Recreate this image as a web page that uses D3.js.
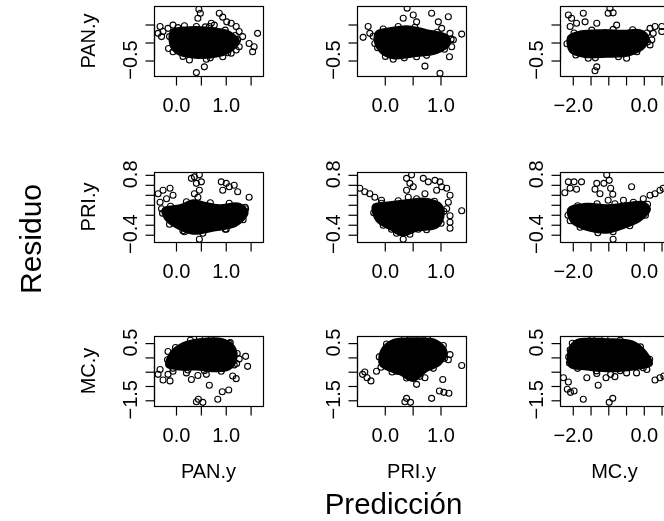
<!DOCTYPE html>
<html><head><meta charset="utf-8">
<script src="https://cdn.jsdelivr.net/npm/d3@7"></script>
<style>
body{margin:0;background:#fff}
svg{display:block;filter:blur(0.35px)}
text{font-family:"Liberation Sans",Arial,sans-serif;fill:#000}
</style>
</head><body>
<svg id="chart" width="664" height="521"></svg>
<script>
// ---------------- data ----------------
const varNames = ["PAN.y", "PRI.y", "MC.y"];   // rows: residual of; cols: prediction of
const yTitle = "Residuo";
const xTitle = "Predicción";

// axis limits (prediction per column, residual per row)
const xLimits = [[-0.432, 1.759], [-0.490, 1.467], [-2.346, 0.724]];
const yLimits = [[-0.944, 1.0], [-0.556, 0.847], [-1.717, 0.731]];

const xTicks = [[0, 0.5, 1, 1.5], [0, 0.5, 1], [-2, -1.5, -1, -0.5, 0, 0.5]];
const xTickLabels = [["0.0", "", "1.0", ""], ["0.0", "", "1.0"], ["\u22122.0", "", "", "", "0.0", ""]];
const yTicks = [[-0.5, 0, 0.5], [-0.4, -0.2, 0, 0.2, 0.4, 0.6, 0.8], [-1.5, -1, -0.5, 0, 0.5]];
const yTickLabels = [["\u22120.5", "", ""], ["\u22120.4", "", "", "", "", "", "0.8"], ["\u22121.5", "", "", "", "0.5"]];

// dense cores (overlapping points) and individual points, [prediction, residual]
const corePAN_PAN = [[-0.08,0.33],[0.28,0.41],[0.75,0.38],[1.08,0.29],[1.28,0.01],[1.15,-0.22],[0.88,-0.39],[0.35,-0.43],[0.02,-0.31],[-0.11,-0.04]];
const ptsPAN_PAN = [[0.47,0.91],[0.50,0.80],[0.45,0.66],[0.88,0.80],[0.95,0.69],[1.03,0.56],[1.12,0.52],[1.22,0.43],[1.28,0.29],[1.35,0.15],[1.25,0.06],[0.72,0.52],[0.78,0.47],[0.68,0.43],[1.48,-0.04],[1.58,-0.13],[1.55,-0.27],[1.65,0.24],[0.58,-0.69],[0.42,-0.85],[-0.31,0.43],[-0.25,0.29],[-0.35,0.24],[-0.15,0.38],[-0.05,0.47],[-0.28,0.15],[-0.05,-0.27],[0.28,-0.5],[0.62,-0.48],[0.95,-0.41],[1.12,-0.31],[1.22,-0.22],[1.28,-0.13],
  [0.05,0.40],[0.18,0.45],[0.42,0.43],[0.60,0.42],[1.0,0.33],[1.20,0.18],[1.05,-0.30],[0.70,-0.44],[0.15,-0.40],[-0.12,0.15],[-0.14,-0.18]];

const corePAN_PRI = [[-0.14,0.29],[0.10,0.38],[0.40,0.44],[0.76,0.33],[1.12,0.19],[1.18,-0.04],[0.94,-0.31],[0.58,-0.39],[0.16,-0.45],[-0.05,-0.31],[-0.17,0.01]];
const ptsPAN_PRI = [[0.41,0.94],[0.52,0.75],[0.34,0.66],[0.58,0.56],[0.85,0.80],[0.97,0.56],[1.15,0.70],[1.03,0.38],[1.18,0.24],[1.39,0.22],[1.17,-0.41],[0.73,-0.67],[1.0,-0.87],[-0.38,0.13],[-0.29,0.43],[-0.26,0.24],[-0.17,-0.04],[0.16,-0.48],[0.58,-0.41],[1.24,0.06],[1.21,-0.13],
  [-0.02,0.36],[0.25,0.43],[0.55,0.41],[0.95,0.27],[1.20,0.08],[1.08,-0.20],[0.76,-0.37],[0.36,-0.44],[0.02,-0.40],[-0.20,0.16],[-0.12,-0.16]];

const corePAN_MC = [[-2.11,0.15],[-1.78,0.29],[-1.13,0.33],[-0.56,0.31],[-0.09,0.33],[0.14,0.15],[0.05,-0.13],[-0.37,-0.36],[-1.03,-0.41],[-1.69,-0.41],[-2.06,-0.27]];
const ptsPAN_MC = [[-2.11,0.75],[-2.02,0.66],[-1.69,0.80],[-2.06,0.43],[-1.88,0.52],[-1.64,0.56],[-1.31,0.52],[-0.94,0.94],[-0.85,0.81],[-0.99,0.80],[-0.75,0.47],[-1.31,-0.69],[-1.36,-0.80],[-0.47,-0.45],[0.19,0.38],[0.33,0.43],[0.52,0.43],[0.28,0.24],[0.52,0.29],[0.24,0.06],[0.19,-0.08],[-1.55,-0.45],
  [-1.95,0.25],[-1.45,0.33],[-0.85,0.35],[-0.30,0.34],[0.10,0.25],[0.12,0.0],[-0.18,-0.27],[-0.70,-0.41],[-1.35,-0.44],[-1.90,-0.36],[-2.15,-0.05]];

const corePRI_PAN = [[-0.25,0.11],[0.09,0.18],[0.35,0.28],[0.55,0.24],[0.88,0.18],[1.28,0.21],[1.45,0.04],[1.22,-0.23],[0.75,-0.33],[0.35,-0.39],[0.02,-0.27],[-0.21,-0.09]];
const ptsPRI_PAN = [[0.38,0.75],[0.32,0.72],[0.48,0.79],[0.42,0.62],[0.48,0.48],[0.38,0.41],[0.45,0.34],[0.52,0.65],[0.92,0.65],[1.02,0.62],[1.08,0.55],[1.18,0.58],[1.25,0.45],[0.95,0.48],[1.48,0.34],[-0.35,0.41],[-0.25,0.48],[-0.11,0.52],[-0.31,0.24],[-0.18,0.31],[-0.05,0.38],[-0.28,0.11],[0.48,-0.5],[0.15,-0.33],[1.02,-0.30],[1.41,0.11],
  [-0.10,0.16],[0.22,0.25],[0.70,0.23],[1.08,0.22],[1.40,0.14],[1.36,-0.11],[1.00,-0.30],[0.55,-0.38],[0.18,-0.35],[-0.12,-0.20],[-0.26,0.02]];

const corePRI_PRI = [[-0.20,0.18],[0.10,0.24],[0.40,0.28],[0.76,0.31],[1.03,0.18],[1.06,-0.06],[0.94,-0.27],[0.58,-0.33],[0.34,-0.43],[0.10,-0.30],[-0.14,-0.13]];
const ptsPRI_PRI = [[-0.44,0.52],[-0.35,0.45],[-0.26,0.41],[-0.17,0.34],[-0.05,0.28],[0.40,0.72],[0.49,0.79],[0.46,0.62],[0.40,0.48],[0.52,0.55],[0.43,0.34],[0.70,0.72],[0.79,0.65],[0.91,0.68],[1.0,0.65],[1.03,0.55],[1.12,0.52],[1.18,0.38],[1.15,0.24],[1.12,0.11],[1.18,-0.03],[1.18,-0.16],[1.18,-0.28],[1.39,0.07],[0.34,-0.50],[0.73,0.41],[0.94,0.48],[0.13,-0.30],[0.61,-0.30],
  [-0.05,0.22],[0.25,0.27],[0.58,0.31],[0.90,0.26],[1.07,0.06],[1.02,-0.18],[0.76,-0.31],[0.46,-0.40],[0.22,-0.38],[-0.02,-0.22],[-0.19,0.03]];

const corePRI_MC = [[-2.11,0.11],[-1.59,0.21],[-1.03,0.18],[-0.56,0.21],[0.0,0.24],[0.19,0.11],[-0.09,-0.13],[-0.66,-0.30],[-1.03,-0.37],[-1.50,-0.33],[-2.02,-0.16]];
const ptsPRI_MC = [[-2.11,0.65],[-1.95,0.65],[-1.74,0.65],[-2.06,0.52],[-2.21,0.43],[-1.88,0.50],[-1.03,0.79],[-0.96,0.68],[-1.11,0.62],[-0.92,0.52],[-0.86,0.40],[-0.99,0.28],[-1.31,0.62],[-1.36,0.50],[-1.22,0.41],[-0.33,0.55],[0.0,0.31],[0.19,0.38],[0.33,0.41],[0.47,0.48],[0.56,0.52],[-0.85,-0.50],[-2.06,-0.13],[-0.09,-0.03],[-0.56,0.28],
  [-1.85,0.17],[-1.30,0.21],[-0.80,0.21],[-0.28,0.24],[0.12,0.20],[0.06,-0.02],[-0.38,-0.23],[-0.85,-0.35],[-1.28,-0.37],[-1.78,-0.26],[-2.12,-0.02]];

const coreMC_PAN = [[-0.18,-0.33],[-0.11,0.13],[0.15,0.48],[0.48,0.62],[0.95,0.62],[1.18,0.36],[1.22,-0.10],[1.08,-0.44],[0.75,-0.50],[0.42,-0.44],[0.09,-0.44]];
const ptsMC_PAN = [[-0.35,-0.61],[-0.25,-0.81],[-0.11,-0.84],[-0.31,-0.44],[-0.15,-0.61],[-0.05,-0.50],[0.22,-0.56],[0.32,-0.79],[0.45,-0.65],[0.62,-0.61],[0.68,-0.99],[0.85,-1.48],[0.94,-1.22],[1.07,-1.16],[1.22,-0.76],[1.15,-0.67],[0.46,-1.48],[0.55,-1.59],[0.42,-1.57],[1.28,-0.07],[1.41,0.02],[1.45,-0.33],[1.23,-0.23],[0.48,0.69],[1.08,0.48],[-0.15,0.19],
  [-0.16,-0.10],[0.0,0.33],[0.30,0.58],[0.72,0.65],[1.10,0.50],[1.24,0.12],[1.18,-0.28],[0.92,-0.50],[0.58,-0.48],[0.25,-0.46],[-0.05,-0.40]];

const coreMC_PRI = [[-0.08,-0.27],[-0.05,0.25],[0.16,0.59],[0.58,0.65],[0.94,0.57],[1.12,0.19],[1.0,-0.27],[0.76,-0.50],[0.52,-0.84],[0.28,-0.61],[0.04,-0.44]];
const ptsMC_PRI = [[-0.39,-0.61],[-0.31,-0.73],[-0.24,-0.84],[-0.35,-0.53],[-0.14,-0.50],[1.18,0.08],[1.39,-0.30],[1.15,-0.10],[1.05,-0.79],[0.99,-1.19],[1.07,-1.24],[1.16,-1.27],[0.85,-1.45],[0.40,-1.45],[0.47,-1.59],[0.37,-1.57],[0.73,-0.73],[0.58,-0.96],[0.22,-0.50],[0.64,0.69],[0.10,-0.38],
  [-0.09,0.0],[0.04,0.45],[0.36,0.64],[0.78,0.63],[1.06,0.40],[1.08,-0.05],[0.88,-0.40],[0.64,-0.68],[0.40,-0.74],[0.14,-0.53],[-0.06,-0.36]];

const coreMC_MC = [[-2.08,-0.33],[-2.08,0.31],[-1.88,0.59],[-1.03,0.62],[-0.28,0.53],[0.10,0.13],[0.24,-0.27],[-0.28,-0.44],[-1.03,-0.50],[-1.59,-0.44]];
const ptsMC_MC = [[-2.25,-0.73],[-2.11,-0.88],[-2.14,-1.13],[-2.05,-1.24],[-1.95,-1.19],[-1.69,-1.48],[-1.59,-0.73],[-1.31,-0.58],[-1.27,-0.99],[-1.05,-0.73],[-0.92,-0.61],[-0.80,-0.69],[-0.86,-1.45],[-0.96,-1.59],[-0.47,-0.56],[-0.19,-0.56],[0.10,-0.44],[0.33,-0.81],[0.47,-0.73],[0.58,-0.67],[-1.08,0.69],[-1.88,0.48],[-2.06,0.25],[-2.08,-0.21],
  [-2.10,0.0],[-2.00,0.48],[-1.45,0.62],[-0.65,0.58],[-0.08,0.35],[0.18,-0.08],[0.0,-0.38],[-0.65,-0.48],[-1.32,-0.49],[-1.85,-0.40]];

const cores = [[corePAN_PAN, corePAN_PRI, corePAN_MC], [corePRI_PAN, corePRI_PRI, corePRI_MC], [coreMC_PAN, coreMC_PRI, coreMC_MC]];
const points = [[ptsPAN_PAN, ptsPAN_PRI, ptsPAN_MC], [ptsPRI_PAN, ptsPRI_PRI, ptsPRI_MC], [ptsMC_PAN, ptsMC_PRI, ptsMC_MC]];

// ---------------- layout ----------------
const colLeft = [154, 357, 560];
const rowTop = [6, 172, 336];
const panelW = 109, panelH = 70;

const svg = d3.select("#chart");
const FONT = '"Liberation Sans", Arial, sans-serif';

for (let r = 0; r < 3; r++) {
  for (let c = 0; c < 3; c++) {
    const L = colLeft[c], T = rowTop[r];
    const x = d3.scaleLinear().domain(xLimits[c]).range([L, L + panelW]);
    const y = d3.scaleLinear().domain(yLimits[r]).range([T + panelH, T]);
    const g = svg.append("g");
    const cid = `clip${r}${c}`;
    g.append("clipPath").attr("id", cid).append("rect")
      .attr("x", L).attr("y", T).attr("width", panelW).attr("height", panelH);
    const plot = g.append("g").attr("clip-path", `url(#${cid})`);

    const line = d3.line().x(d => x(d[0])).y(d => y(d[1])).curve(d3.curveCatmullRomClosed.alpha(0.5));
    plot.append("path").attr("d", line(cores[r][c]))
      .attr("fill", "#000").attr("stroke", "#000").attr("stroke-width", 2).attr("stroke-linejoin", "round");

    plot.selectAll("circle").data(points[r][c]).join("circle")
      .attr("cx", d => x(d[0])).attr("cy", d => y(d[1])).attr("r", 3)
      .attr("fill", "none").attr("stroke", "#000").attr("stroke-width", 1.1);

    // box
    g.append("rect").attr("x", L + 0.5).attr("y", T + 0.5).attr("width", panelW).attr("height", panelH)
      .attr("fill", "none").attr("stroke", "#000").attr("stroke-width", 1.2);

    // x axis
    const xt = xTicks[c];
    const xa = g.append("g").attr("transform", `translate(0.5,${T + panelH + 0.5})`)
      .call(d3.axisBottom(x).tickValues(xt).tickSize(9).tickPadding(12)
        .tickFormat((d, i) => xTickLabels[c][i]));
    xa.select(".domain").remove();
    xa.attr("font-size", 20).attr("font-family", FONT);
    xa.selectAll("line").attr("stroke", "#000").attr("stroke-width", 1.2);
    xa.append("line").attr("x1", x(xt[0])).attr("x2", x(xt[xt.length - 1]))
      .attr("stroke", "#000").attr("stroke-width", 1.2);

    // y axis
    const yt = yTicks[r];
    const ya = g.append("g").attr("transform", `translate(${L + 0.5},0.5)`)
      .call(d3.axisLeft(y).tickValues(yt).tickSize(9).tickFormat(""));
    ya.select(".domain").remove();
    ya.selectAll("line").attr("stroke", "#000").attr("stroke-width", 1.2);
    ya.append("line").attr("y1", y(yt[0])).attr("y2", y(yt[yt.length - 1]))
      .attr("stroke", "#000").attr("stroke-width", 1.2);
    g.selectAll(null).data(yt.map((v, i) => ({ v, lab: yTickLabels[r][i] })).filter(d => d.lab))
      .join("text")
      .attr("transform", d => `translate(${L - 17},${y(d.v)}) rotate(-90)`)
      .attr("text-anchor", "middle").attr("font-size", 20).text(d => d.lab);
  }
}

// row labels (residual variable)
varNames.forEach((n, r) => {
  svg.append("text")
    .attr("transform", `translate(95,${rowTop[r] + panelH / 2}) rotate(-90)`)
    .attr("text-anchor", "middle").attr("font-size", 20).text(n);
});
// column labels (prediction variable)
varNames.forEach((n, c) => {
  svg.append("text")
    .attr("x", colLeft[c] + panelW / 2).attr("y", 478)
    .attr("text-anchor", "middle").attr("font-size", 20).text(n);
});

svg.append("text").attr("transform", "translate(41,239) rotate(-90)")
  .attr("text-anchor", "middle").attr("font-size", 30).text(yTitle);
svg.append("text").attr("x", 393.5).attr("y", 514)
  .attr("text-anchor", "middle").attr("font-size", 29.5).text(xTitle);
</script>
</body></html>
